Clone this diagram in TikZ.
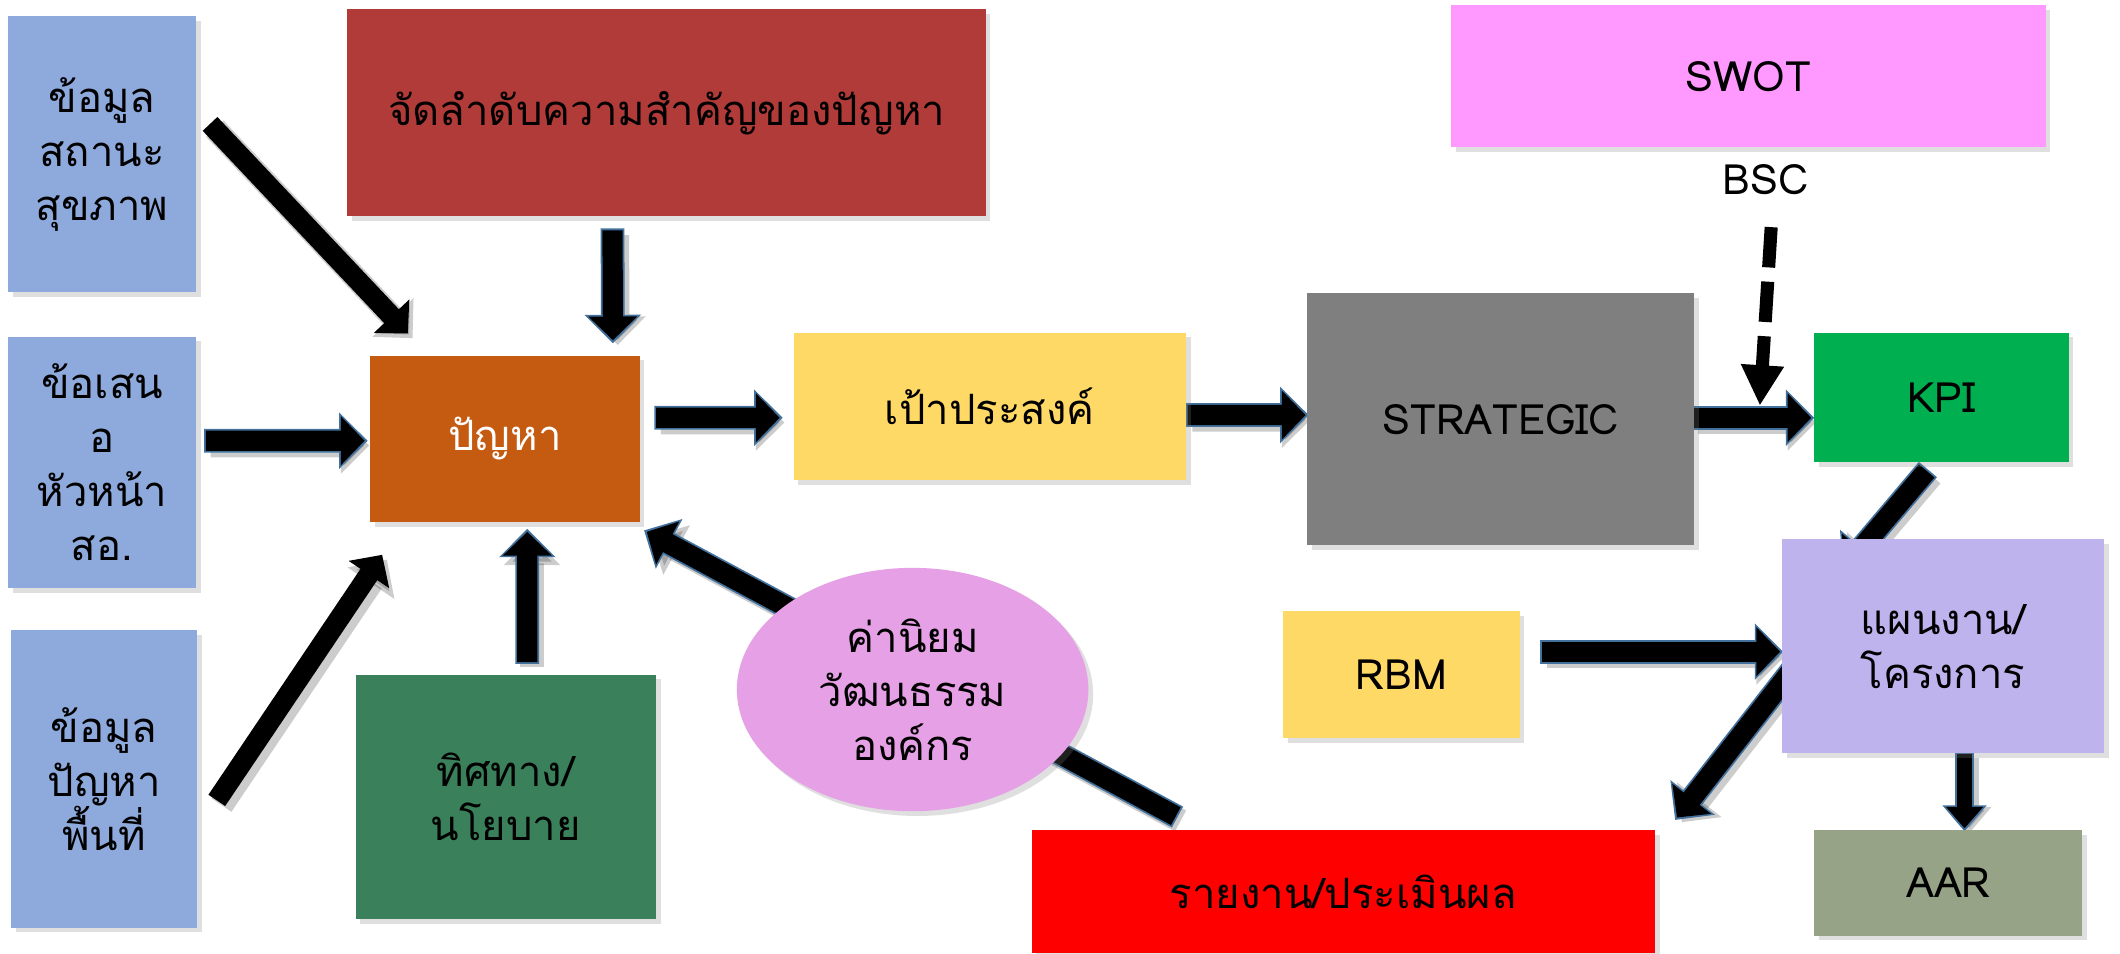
\documentclass[tikz,border=0pt]{standalone}
\usepackage{fontspec}
\newfontfamily\thai[Script=Thai]{Loma}
\usetikzlibrary{arrows.meta,calc,backgrounds,shadows,shapes.geometric}
\definecolor{cblue}{HTML}{8EA9DB}
\definecolor{cdred}{HTML}{B03B38}
\definecolor{corange}{HTML}{C55A11}
\definecolor{cyellow}{HTML}{FFD966}
\definecolor{cgray}{HTML}{7F7F7F}
\definecolor{cpink}{HTML}{FF99FF}
\definecolor{ckpi}{HTML}{00B050}
\definecolor{clav}{HTML}{BFB3EE}
\definecolor{caar}{HTML}{96A386}
\definecolor{cred}{HTML}{FF0000}
\definecolor{cpol}{HTML}{3A805A}
\definecolor{cviolet}{HTML}{E6A0E6}
\definecolor{arrblue}{HTML}{41719C}
\tikzset{
  txt/.style={font=\thai\fontsize{17.6}{22.7}\selectfont, align=center},
  box/.style={txt, rectangle, inner sep=0pt,
    drop shadow={shadow xshift=2pt, shadow yshift=-2pt, opacity=0.25}},
  inbig/.style={line width=8.5pt, draw=black, -{Triangle[width=20pt,length=10pt]}},
  outbig/.style={line width=10pt, draw=arrblue, -{Triangle[width=23pt,length=12pt]},
    shorten >=-1.3pt, shorten <=-0.8pt},
  shbig/.style={line width=10pt, draw=black, opacity=0.2, -{Triangle[width=23pt,length=12pt]},
    transform canvas={shift={(2pt,-2pt)}}},
  insmall/.style={line width=6.5pt, draw=black, -{Triangle[width=15pt,length=9pt]}},
  outsmall/.style={line width=8pt, draw=arrblue, -{Triangle[width=18pt,length=11pt]},
    shorten >=-1.3pt, shorten <=-0.8pt},
  shsmall/.style={line width=8pt, draw=black, opacity=0.2, -{Triangle[width=18pt,length=11pt]},
    transform canvas={shift={(2pt,-2pt)}}},
  dasharrow/.style={line width=5.5pt, draw=black, dash pattern=on 17pt off 6pt,
    -{Triangle[width=17pt,length=17pt]}},
}
\newcommand\bigarrow[2]{%
  \draw[shbig] (#1) -- (#2);
  \draw[outbig] (#1) -- (#2);
  \draw[inbig] (#1) -- (#2);}
\newcommand\smallarrow[2]{%
  \draw[shsmall] (#1) -- (#2);
  \draw[outsmall] (#1) -- (#2);
  \draw[insmall] (#1) -- (#2);}
\newcommand\plainarrow[2]{%
  \draw[shbig] (#1) -- (#2);
  \draw[inbig] (#1) -- (#2);}
% name, x1, y1, x2, y2, colour, text
\newcommand\rbox[7]{%
  \node[box, fill=#6, minimum width={(#4-#2)*0.02cm}, minimum height={(#5-#3)*0.02cm}]
    (#1) at ({(#2+#4)/2},{(#3+#5)/2}) {#7};}
\begin{document}
\begin{tikzpicture}[x=0.02cm, y=-0.02cm]
\useasboundingbox (0,0) rectangle (1568,705);

\rbox{b1}{6}{12}{145}{216}{cblue}{ข้อมูล\\สถานะ\\สุขภาพ}
\rbox{b2}{6}{249}{145}{435}{cblue}{ข้อเสน\\อ\\หัวหน้า\\สอ.}
\rbox{b3}{8}{466}{146}{686}{cblue}{ข้อมูล\\ปัญหา\\พื้นที่}
\rbox{prio}{257}{7}{729}{160}{cdred}{จัดลำดับความสำคัญของปัญหา}
\rbox{pan}{274}{263}{473}{386}{corange}{\textcolor{white}{ปัญหา}}
\rbox{goal}{587}{246}{877}{355}{cyellow}{เป้าประสงค์}
\rbox{strat}{967}{217}{1253}{403}{cgray}{STRATEGIC}
\rbox{swot}{1073}{4}{1513}{109}{cpink}{SWOT}
\rbox{kpi}{1342}{246}{1530}{342}{ckpi}{KPI}
\rbox{plan}{1318}{399}{1556}{557}{clav}{แผนงาน/\\โครงการ}
\rbox{rbm}{949}{452}{1124}{546}{cyellow}{RBM}
\rbox{aar}{1342}{614}{1540}{692}{caar}{AAR}
\rbox{rep}{763}{614}{1224}{705}{cred}{รายงาน/ประเมินผล}
\rbox{pol}{263}{499}{485}{680}{cpol}{ทิศทาง/\\นโยบาย}
\node[txt, ellipse, fill=cviolet, inner sep=0pt, minimum width={260*0.02cm}, minimum height={180*0.02cm},
  drop shadow={shadow xshift=2pt, shadow yshift=-2pt, opacity=0.25}] (val) at (675,510) {ค่านิยม\\วัฒนธรรม\\องค์กร};
\node[txt, inner sep=0pt] (bsc) at (1306,133) {BSC};

% arrow end points
\coordinate (a1s) at ($(b1.north east)+(10,80)$);
\coordinate (a1e) at ($(pan.north west)+(28,-16)$);
\coordinate (a2s) at ($(b2.east)+(7,-16)$);
\coordinate (a2e) at ($(pan.west)+(-4,1.5)$);
\coordinate (a3s) at ($(b3.east)+(14,16)$);
\coordinate (a3e) at ($(pan.south west)+(9,24)$);
\coordinate (a4s) at ($(prio.south)+(-40,10)$);
\coordinate (a4e) at ($(pan.north east)+(-20,-11)$);
\coordinate (a5s) at ($(pan.east)+(12,-15.5)$);
\coordinate (a5e) at ($(goal.west)+(-10,8.5)$);
\coordinate (a6s) at ($(goal.east)+(1,6.5)$);
\coordinate (a6e) at ($(strat.west)+(-1,-3)$);
\coordinate (a7s) at ($(strat.east)+(-1,-1)$);
\coordinate (a7e) at ($(kpi.west)+(-2,15)$);
\coordinate (a8s) at ($(bsc)+(4,35)$);
\coordinate (a8e) at ($(kpi.west)+(-40,6)$);
\coordinate (a9s) at ($(kpi.south)+(-11,6)$);
\coordinate (a9e) at ($(plan.north west)+(47,21)$);
\coordinate (a10s) at ($(rbm.east)+(16,-17)$);
\coordinate (a10e) at ($(plan.west)+(-1,4)$);
\coordinate (a11s) at ($(plan.west)+(12,12)$);
\coordinate (a11e) at ($(rep.north east)+(16,-9)$);
\coordinate (a12s) at ($(plan.south)+(16,0)$);
\coordinate (a12e) at ($(aar.north)+(12,-1)$);
\coordinate (a13s) at ($(pol.north)+(16,-9)$);
\coordinate (a13e) at ($(pan.south)+(16.5,7)$);
\coordinate (a14s) at ($(rep.north west)+(107,-10)$);
\coordinate (a14e) at ($(pan.south east)+(5,7)$);

\begin{scope}[on background layer]
\fill[white] (0,0) rectangle (1568,705);
\plainarrow{a1s}{a1e}
\bigarrow{a2s}{a2e}
\plainarrow{a3s}{a3e}
\bigarrow{a4s}{a4e}
\bigarrow{a5s}{a5e}
\bigarrow{a6s}{a6e}
\bigarrow{a7s}{a7e}
\bigarrow{a9s}{a9e}
\bigarrow{a10s}{a10e}
\bigarrow{a11s}{a11e}
\smallarrow{a12s}{a12e}
\bigarrow{a13s}{a13e}
\bigarrow{a14s}{a14e}
\end{scope}
\draw[dasharrow] (a8s) -- (a8e);
\end{tikzpicture}
\end{document}
